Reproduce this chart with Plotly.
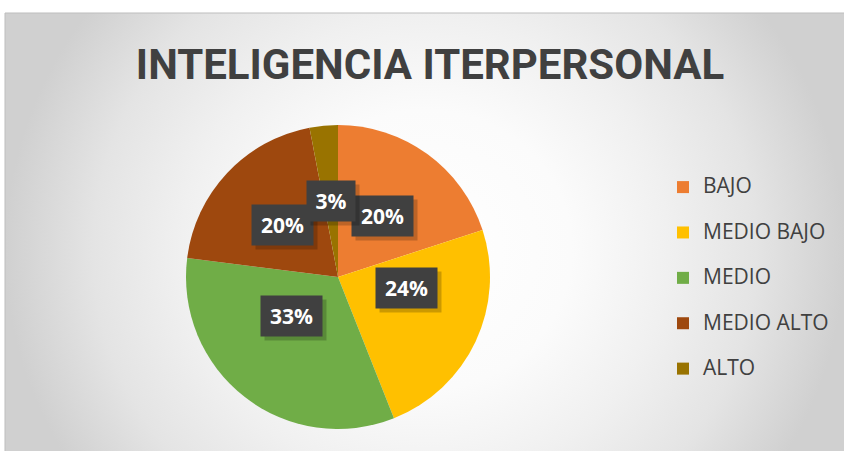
import math
import plotly.graph_objects as go

W, H = 844, 451

categories = ["BAJO", "MEDIO BAJO", "MEDIO", "MEDIO ALTO", "ALTO"]
values = [20, 24, 33, 20, 3]
colors = ["#ED7D31", "#FFC000", "#70AD47", "#9E480E", "#997300"]
title = "INTELIGENCIA ITERPERSONAL"

# chart area (pixels) and pie geometry
top, left = 13, 5
cx, cy, r = 338, 277, 152

fig = go.Figure()

# radial gradient background: ellipse centred near (425, 250)
gx, gy, hx, hy = 425, 250, 420, 400
fx0 = (gx - hx - left) / (W - left)
fx1 = (gx + hx - left) / (W - left)
fyc = (H - gy) / (H - top)
fyh = hy / (H - top)
fig.add_trace(go.Scatter(
    x=[fx0, fx1, fx1, fx0, fx0], y=[fyc - fyh, fyc - fyh, fyc + fyh, fyc + fyh, fyc - fyh],
    mode="lines", line=dict(width=0), fill="toself",
    fillgradient=dict(type="radial", colorscale=[
        [0, "#ffffff"], [0.35, "#fbfbfb"], [0.58, "#f0f0f0"], [0.79, "#e4e4e4"], [1, "#d0d0d0"]]),
    hoverinfo="skip", showlegend=False,
))

fig.add_trace(go.Pie(
    labels=[f'<span style="font-size:21px">{c}</span><br>&nbsp;' for c in categories],
    values=values,
    marker=dict(colors=colors, line=dict(width=0)),
    sort=False, direction="clockwise", rotation=0,
    textinfo="none", hoverinfo="percent",
    domain=dict(x=[(cx - r) / W, (cx + r) / W], y=[(H - cy - r) / H, (H - cy + r) / H]),
))

# percentage labels in dark boxes at half radius
total = sum(values)
cum = 0
for v in values:
    mid = (cum + v / 2) / total * 2 * math.pi
    cum += v
    px = cx + 0.5 * r * math.sin(mid)
    py = cy - 0.5 * r * math.cos(mid)
    pct = f"{round(v / total * 100)}%"
    bw = 13 * len(pct) + 8
    # soft shadow
    fig.add_annotation(
        x=(px + 4) / W, y=1 - (py + 4) / H, xref="paper", yref="paper",
        text="&nbsp;", showarrow=False, width=bw, height=26,
        bgcolor="rgba(0,0,0,0.2)", borderpad=7,
    )
    fig.add_annotation(
        x=px / W, y=1 - py / H, xref="paper", yref="paper",
        text=f"<b>{pct}</b>", showarrow=False, width=bw, height=26,
        font=dict(family="Open Sans", size=21, color="white"),
        bgcolor="#404040", borderpad=7,
    )

fig.update_layout(
    width=W, height=H,
    margin=dict(l=0, r=0, t=0, b=0),
    paper_bgcolor="white", plot_bgcolor="rgba(0,0,0,0)",
    xaxis=dict(domain=[left / W, 1], range=[0, 1], visible=False, fixedrange=True),
    yaxis=dict(domain=[0, 1 - top / H], range=[0, 1], visible=False, fixedrange=True),
    title=dict(
        text=f"<b>{title}</b>", x=430 / W, xanchor="center", y=1 - 64 / H, yanchor="middle",
        font=dict(family="Roboto, sans-serif", size=42, color="#404040"),
    ),
    legend=dict(
        x=663 / W, xanchor="left", y=1 - 170 / H, yanchor="top",
        bgcolor="rgba(0,0,0,0)", valign="top",
        font=dict(family="Open Sans", size=16.3, color="#404040"),
    ),
    shapes=[
        dict(type="rect", xref="paper", yref="paper",
             x0=672 / W, x1=838 / W, y0=1 - 388 / H, y1=1 - 164 / H,
             fillcolor="rgba(170,170,170,0.2)", line=dict(width=0), layer="below"),
        dict(type="line", xref="paper", yref="paper",
             x0=left / W, x1=1, y0=1 - top / H, y1=1 - top / H, line=dict(color="#bdbdbd", width=1)),
        dict(type="line", xref="paper", yref="paper",
             x0=left / W, x1=left / W, y0=0, y1=1 - top / H, line=dict(color="#bdbdbd", width=1)),
    ],
)

fig.write_html("out.html", config={"displayModeBar": False},
               post_script="document.body.style.margin='0';")
